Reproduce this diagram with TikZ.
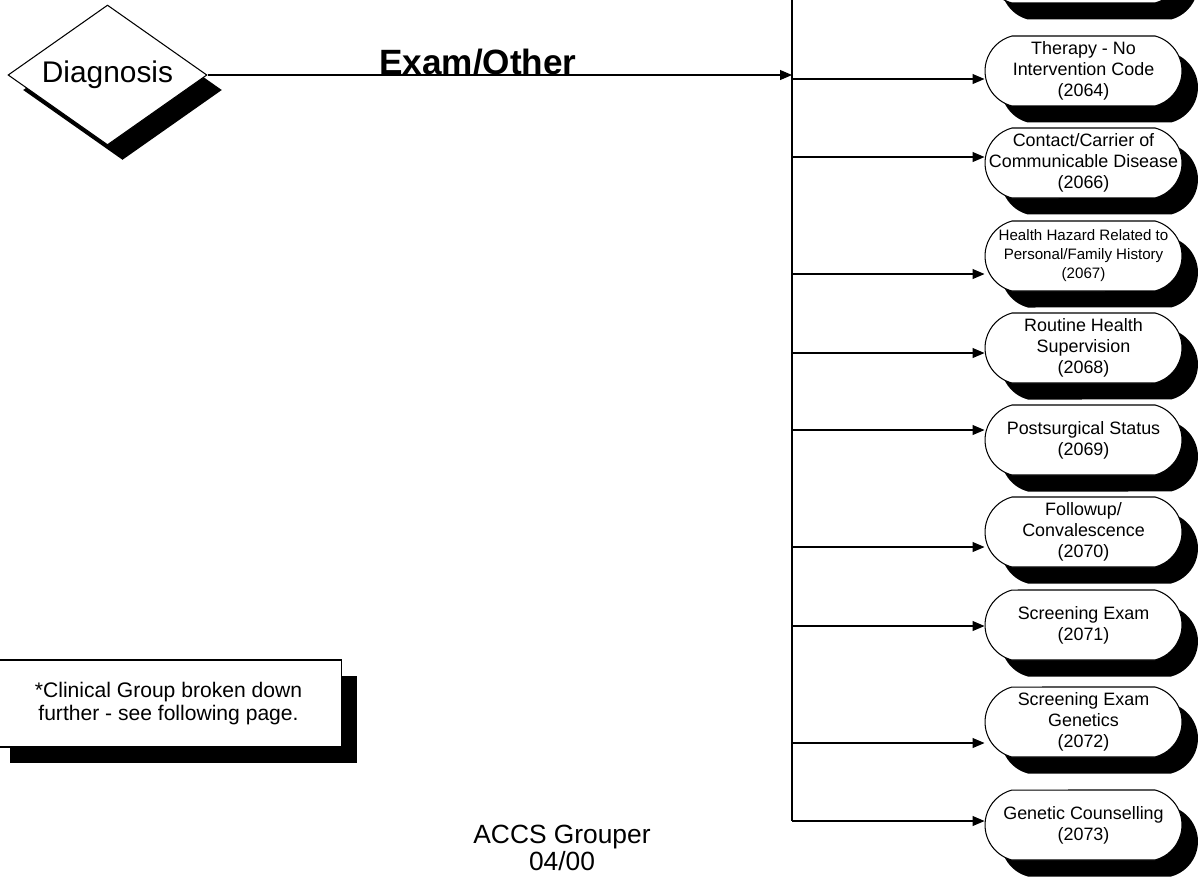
\documentclass[tikz,border=0pt]{standalone}
\usepackage{fontspec}
\setmainfont{Liberation Sans}
\usetikzlibrary{arrows.meta,positioning,shapes.geometric,shapes.misc,shadows}

\begin{document}
\begin{tikzpicture}[
        x=0.02cm, y=-0.02cm,
        line width=0.6pt,
        sombra/.style={drop shadow={shadow xshift=0.32cm, shadow yshift=-0.33cm, fill=black, opacity=1}},
        decision/.style={draw, diamond, aspect=1.42, minimum width=3.98cm, minimum height=2.8cm, inner sep=0pt, fill=white,
            drop shadow={shadow xshift=0.3cm, shadow yshift=-0.3cm, fill=black, opacity=1}, font=\fontsize{17}{20}\selectfont},
        grupo/.style={draw, rounded rectangle, rounded rectangle arc length=150, align=center, minimum width=3.94cm,
            minimum height=1.4cm, inner sep=0pt, fill=white, sombra, font=\fontsize{10.2}{12}\selectfont},
        nota/.style={draw, align=center, minimum width=6.94cm, minimum height=1.74cm, fill=white,
            drop shadow={shadow xshift=0.3cm, shadow yshift=-0.32cm, fill=black, opacity=1}, font=\fontsize{12}{13.5}\selectfont},
        flecha/.style={-{Triangle[length=0.24cm, width=0.2cm]}}
    ]
        \useasboundingbox (0,0) rectangle (1199,880);
        \clip (0,0) rectangle (1199,880);

        \node[decision] (diagnosis) at (107.5,75) {Diagnosis};
        \node[font=\fontsize{20}{24}\selectfont\bfseries] (titulo) at (478,62) {Exam/Other};

        \node[grupo] (previo) at (1083.5,-32) {};
        \node[grupo] (terapia) at (1083.5,71) {Therapy - No\\Intervention Code\\(2064)};
        \node[grupo] (contacto) at (1083.5,163) {Contact/Carrier of\\\makebox[0pt]{Communicable Disease}\\(2066)};
        \node[grupo, font=\fontsize{8.6}{10.8}\selectfont] (riesgo) at (1083.5,256) {Health Hazard Related to\\Personal/Family History\\(2067)};
        \node[grupo] (rutina) at (1083.5,348) {Routine Health\\Supervision\\(2068)};
        \node[grupo] (postcirugia) at (1083.5,440) {Postsurgical Status\\(2069)};
        \node[grupo] (seguimiento) at (1083.5,532) {Followup/\\Convalescence\\(2070)};
        \node[grupo] (cribado) at (1083.5,625) {Screening Exam\\(2071)};
        \node[grupo] (genetica) at (1083.5,722) {Screening Exam\\Genetics\\(2072)};
        \node[grupo] (consejo) at (1083.5,825) {Genetic Counselling\\(2073)};

        \node[nota] (aviso) at (168.5,703.5) {*Clinical Group broken down\\further - see following page.};
        \node[align=center, font=\fontsize{15}{11.5}\selectfont] (pie) at (562,848) {ACCS Grouper\\04/00};

        % bus vertical
        \coordinate (bus-top) at (792,-2);
        \coordinate (bus-end) at (792,821);
        \draw (bus-top) -- (bus-end);
        \draw[flecha] (diagnosis.east) -- (diagnosis.east -| bus-top);

        % ramas
        \coordinate (rama-terapia) at (792,79);
        \coordinate (rama-contacto) at (792,157);
        \coordinate (rama-riesgo) at (792,274);
        \coordinate (rama-rutina) at (792,353);
        \coordinate (rama-postcirugia) at (792,430);
        \coordinate (rama-seguimiento) at (792,547);
        \coordinate (rama-cribado) at (792,626);
        \coordinate (rama-genetica) at (792,743);

        \draw[flecha] (rama-terapia) -- (rama-terapia -| terapia.west);
        \draw[flecha] (rama-contacto) -- (rama-contacto -| contacto.west);
        \draw[flecha] (rama-riesgo) -- (rama-riesgo -| riesgo.west);
        \draw[flecha] (rama-rutina) -- (rama-rutina -| rutina.west);
        \draw[flecha] (rama-postcirugia) -- (rama-postcirugia -| postcirugia.west);
        \draw[flecha] (rama-seguimiento) -- (rama-seguimiento -| seguimiento.west);
        \draw[flecha] (rama-cribado) -- (rama-cribado -| cribado.west);
        \draw[flecha] (rama-genetica) -- (rama-genetica -| genetica.west);
        \draw[flecha] (bus-end) -- (bus-end -| consejo.west);
    \end{tikzpicture}
\end{document}
